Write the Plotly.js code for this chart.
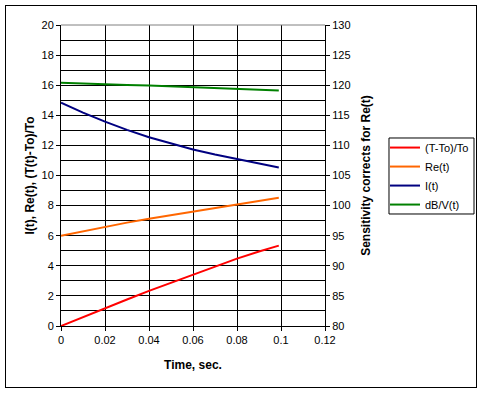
<!DOCTYPE html>
<html><head><meta charset="utf-8">
<script src="https://cdn.plot.ly/plotly-3.0.1.min.js"></script>
<style>
body{margin:0;padding:0;background:#fff;}
#frame{position:absolute;left:5px;top:5px;width:470px;height:381px;border:1px solid #000;}
#chart{position:absolute;left:0;top:0;width:483px;height:393px;}
</style></head>
<body>
<div id="frame"></div>
<div id="chart"></div>
<script>
const time = [0, 0.01, 0.02, 0.03, 0.04, 0.05, 0.06, 0.07, 0.08, 0.09, 0.099];
const tempRise = [0, 0.6, 1.18, 1.76, 2.33, 2.88, 3.43, 3.97, 4.48, 4.95, 5.34];
const reT = [6.0, 6.3, 6.6, 6.87, 7.13, 7.37, 7.61, 7.85, 8.08, 8.3, 8.52];
const iT = [14.84, 14.18, 13.58, 13.03, 12.54, 12.11, 11.73, 11.39, 11.08, 10.8, 10.53];
const dBV = [120.4, 120.25, 120.15, 120.05, 119.97, 119.82, 119.65, 119.5, 119.33, 119.2, 119.1];
const seriesNames = ["(T-To)/To", "Re(t)", "I(t)", "dB/V(t)"];

const font = {family: "Liberation Sans, Arial, sans-serif", size: 11, color: "#000"};
const titleFont = {family: font.family, size: 12, color: "#000"};
const traces = [
  {x: time, y: tempRise, name: seriesNames[0], mode: "lines", line: {color: "#FF0000", width: 2}},
  {x: time, y: reT, name: seriesNames[1], mode: "lines", line: {color: "#FF6600", width: 2}},
  {x: time, y: iT, name: seriesNames[2], mode: "lines", line: {color: "#000080", width: 2}},
  {x: time, y: dBV, name: seriesNames[3], mode: "lines", yaxis: "y2", line: {color: "#008000", width: 2}}
];
const layout = {
  width: 483, height: 393,
  margin: {l: 61, r: 158, t: 25, b: 67, pad: 0, autoexpand: false},
  paper_bgcolor: "rgba(0,0,0,0)", plot_bgcolor: "#fff",
  font: font,
  showlegend: true,
  legend: {x: 1.2273, y: 0.641, xanchor: "left", yanchor: "top", borderwidth: 0,
           bgcolor: "rgba(0,0,0,0)", font: font, itemwidth: 30, tracegroupgap: 0},
  xaxis: {range: [0, 0.12], dtick: 0.02, tick0: 0, showgrid: true, gridcolor: "#000", gridwidth: 1,
          showline: true, linecolor: "#000", linewidth: 1, ticks: "outside", ticklen: 4, tickcolor: "#000",
          zeroline: false, tickfont: font, automargin: false,
          title: {text: "<b>Time, sec.</b>", font: titleFont, standoff: 15}},
  yaxis: {range: [0, 20], dtick: 2, tick0: 0, showgrid: true, gridcolor: "#000", gridwidth: 1,
          minor: {dtick: 1, showgrid: true, gridcolor: "#000", gridwidth: 1},
          showline: true, linecolor: "#000", linewidth: 1, ticks: "outside", ticklen: 4, tickcolor: "#000",
          zeroline: false, tickfont: font, automargin: false,
          title: {text: "<b>I(t), Re(t), (T(t)-To)/To</b>", font: titleFont, standoff: 4}},
  yaxis2: {range: [80, 130], dtick: 5, tick0: 80, overlaying: "y", side: "right", showgrid: false,
           showline: true, linecolor: "#000", linewidth: 1, ticks: "outside", ticklen: 4, tickcolor: "#000",
           zeroline: false, tickfont: font, automargin: false,
           title: {text: "<b>Sensitivity corrects for Re(t)</b>", font: titleFont, standoff: 12}},
  shapes: [
    {type: "line", xref: "paper", yref: "paper", x0: 0, x1: 1, y0: 1, y1: 1, line: {color: "#808080", width: 1}, layer: "above"},
    {type: "rect", xref: "paper", yref: "paper", x0: 1.2424, x1: 1.5644, y0: 0.3721, y1: 0.6246,
     line: {color: "#000", width: 1}, fillcolor: "#fff", layer: "above"}
  ]
};
Plotly.newPlot("chart", traces, layout, {displayModeBar: false, staticPlot: true});
</script>
</body></html>
